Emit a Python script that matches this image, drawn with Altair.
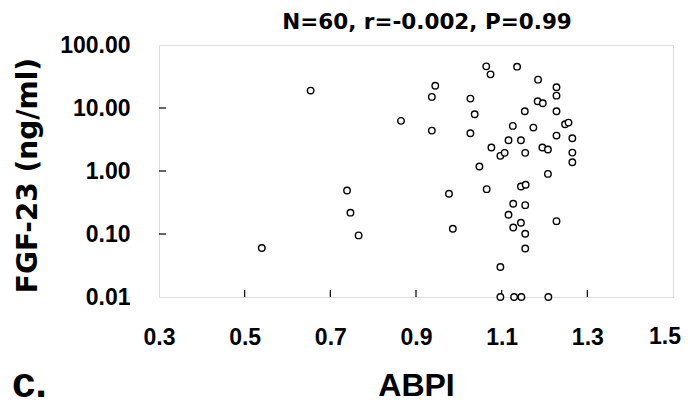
import altair as alt
import pandas as pd

# ---- data ----
abpi = [0.654, 0.739, 0.747, 0.766, 0.540,
        1.064, 1.074, 1.136, 0.945, 0.937, 1.027, 1.185, 1.228, 1.228, 1.184,
        1.196, 1.228, 1.037, 1.154, 0.865, 0.937, 1.027, 1.126, 1.174, 1.248,
        1.256, 1.228, 1.265, 1.116, 1.145, 1.076, 1.097, 1.107, 1.155, 1.195,
        1.208, 1.265, 1.265, 1.048, 1.208,
        0.977, 1.065, 1.145, 1.156, 1.127, 1.155, 1.116, 1.228, 0.986, 1.127,
        1.145, 1.155, 1.155, 1.097,
        1.097, 1.129, 1.146, 1.209]
fgf23 = [18.9, 0.49, 0.218, 0.095, 0.060,
         45.8, 34.2, 45.3, 22.6, 15.0, 14.1, 28.2, 21.3, 15.7, 12.8,
         11.9, 8.87, 7.94, 8.87, 6.25, 4.38, 3.97, 5.20, 4.89, 5.52,
         5.87, 3.65, 3.31, 3.08, 3.08, 2.36, 1.74, 1.94, 1.94, 2.36,
         2.19, 1.96, 1.38, 1.18, 0.90,
         0.436, 0.515, 0.568, 0.604, 0.302, 0.287, 0.202, 0.160, 0.121, 0.127,
         0.151, 0.101, 0.059, 0.030,
         0.01, 0.01, 0.01, 0.01]

x_ticks = [0.3, 0.5, 0.7, 0.9, 1.1, 1.3, 1.5]
y_ticks = [0.01, 0.1, 1, 10, 100]
x_inner_ticks = [0.5, 0.7, 0.9, 1.1, 1.3]
y_inner_ticks = [0.1, 1, 10]

title_text = "N=60, r=-0.002, P=0.99"
x_title = "ABPI"
y_title = "FGF-23 (ng/ml)"
panel_label = "c."

W, H = 514, 252
LAB_FONT = "Liberation Sans"

df = pd.DataFrame({"ABPI": abpi, "FGF": fgf23})

xscale = alt.Scale(domain=[0.3, 1.5], nice=False, zero=False)
yscale = alt.Scale(type="log", domain=[0.01, 100], nice=False)

# the last x label (at the right edge) is drawn as its own text so it can be
# nudged inside the page
xaxis = alt.Axis(values=x_ticks[:-1], format=".1f", ticks=False, domain=False,
                 grid=False, labelFlush=False, labelOverlap=False,
                 labelFont=LAB_FONT, labelFontSize=23,
                 labelFontWeight="bold", labelColor="black",
                 labelPadding=29,
                 title=x_title, titleFont=LAB_FONT,
                 titleFontSize=32, titleFontWeight="bold",
                 titleColor="black", titleX=W / 2, titleY=98,
                 titleAlign="center", titleBaseline="alphabetic")
yaxis = alt.Axis(values=y_ticks, format=".2f", ticks=False, domain=False,
                 grid=False, labelFlush=False, labelOverlap=False,
                 labelFont=LAB_FONT, labelFontSize=23,
                 labelFontWeight="bold", labelColor="black",
                 labelPadding=29,
                 title=y_title, titleFont="DejaVu Sans",
                 titleFontSize=28, titleFontWeight="bold",
                 titleColor="black", titleAngle=270,
                 titleX=-123, titleY=130, titleAlign="center",
                 titleBaseline="alphabetic")

points = alt.Chart(df).mark_point(
    shape="circle", filled=False, fill="white", fillOpacity=1,
    stroke="black", strokeWidth=1.4, size=42, opacity=1
).encode(
    x=alt.X("ABPI:Q", scale=xscale, axis=xaxis),
    y=alt.Y("FGF:Q", scale=yscale, axis=yaxis),
)

xticks = alt.Chart(pd.DataFrame({"t": x_inner_ticks})).mark_rule(
    color="black", strokeWidth=1.2
).encode(
    x=alt.X("t:Q", scale=xscale, axis=xaxis),
    y=alt.value(H), y2=alt.value(H - 7),
)

yticks = alt.Chart(pd.DataFrame({"t": y_inner_ticks})).mark_rule(
    color="black", strokeWidth=1.2
).encode(
    y=alt.Y("t:Q", scale=yscale, axis=yaxis),
    x=alt.value(0), x2=alt.value(7),
)

last_label = alt.Chart(pd.DataFrame({"t": [x_ticks[-1]]})).mark_text(
    font=LAB_FONT, fontSize=23, fontWeight="bold", color="black",
    align="center", baseline="top", dx=-8
).encode(
    x=alt.X("t:Q", scale=xscale, axis=xaxis),
    text=alt.Text("t:Q", format=".1f"),
    y=alt.value(H + 29),
)

label = alt.Chart(pd.DataFrame({"t": [panel_label]})).mark_text(
    font=LAB_FONT, fontSize=42, fontWeight="bold", color="black",
    align="left", baseline="alphabetic"
).encode(
    text="t:N", x=alt.value(-147), y=alt.value(352),
)

title = alt.Chart(pd.DataFrame({"t": [title_text]})).mark_text(
    font="DejaVu Sans", fontSize=21.5, fontWeight="bold", color="black",
    align="center", baseline="alphabetic"
).encode(
    text="t:N", x=alt.value(W / 2 + 11), y=alt.value(-16.5),
)

chart = alt.layer(xticks, yticks, points, last_label, label, title).properties(
    width=W, height=H,
    autosize=alt.AutoSizeParams(type="none"),
    padding={"left": 151, "top": 37, "right": 9, "bottom": 110},
).configure_view(
    stroke="black", strokeWidth=2
).configure(background="white")

chart.save("out.html", embed_options={"renderer": "svg", "actions": False})
